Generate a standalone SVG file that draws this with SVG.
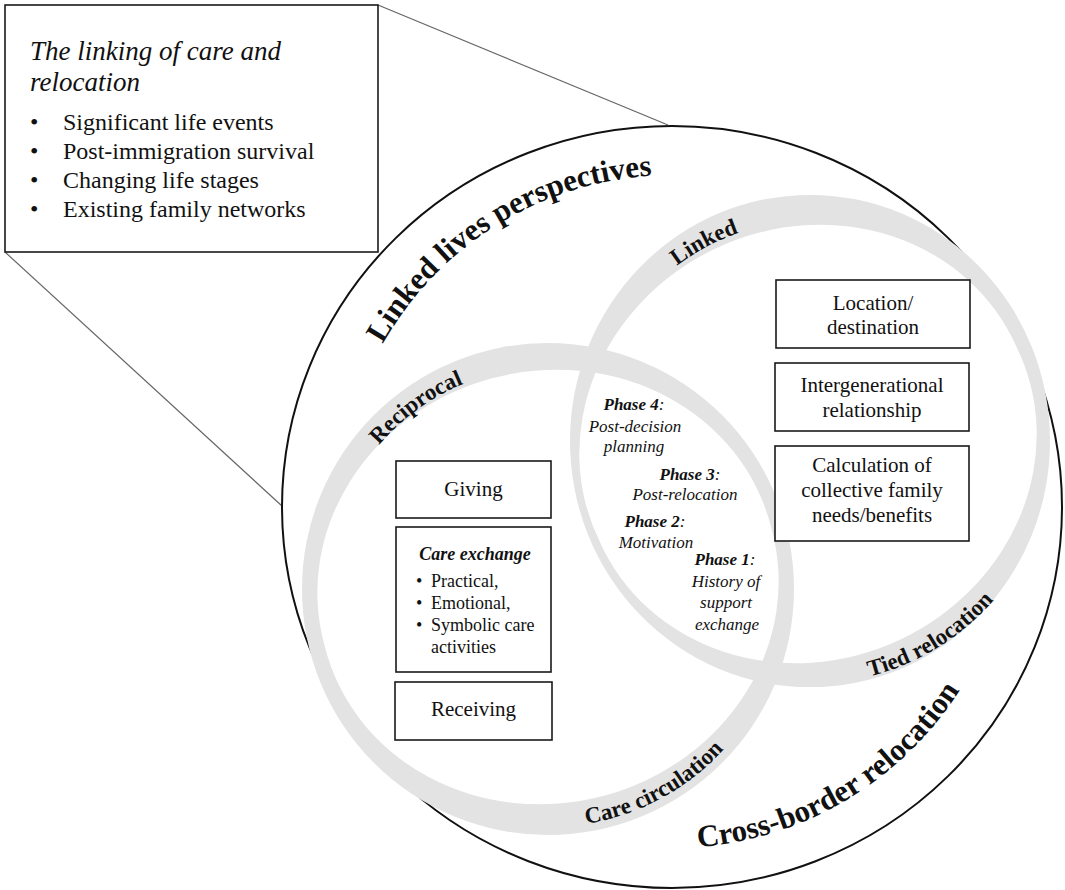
<svg xmlns="http://www.w3.org/2000/svg" width="1065" height="890" viewBox="0 0 1065 890">
<style>
.t{font-family:'Liberation Serif','Times New Roman',serif;fill:#111}
.box{fill:#fff;stroke:#1a1a1a;stroke-width:1.6}
.band{fill:#e3e3e3;fill-rule:evenodd}
.lead{stroke:#666;stroke-width:1.2;fill:none}
.ring{font-family:'Liberation Serif','Times New Roman',serif;font-weight:bold;font-size:23px;fill:#111}
.big{font-family:'Liberation Serif','Times New Roman',serif;font-weight:bold;font-size:31px;fill:#111}
.ph{font-family:'Liberation Serif','Times New Roman',serif;font-style:italic;font-size:17px;fill:#111}
.bx{font-family:'Liberation Serif','Times New Roman',serif;font-size:21px;fill:#111}
</style>
<defs>
<path id="pBigTop" d="M 340 507 A 332 332 0 0 1 1004 507"/>
<path id="pBigBot" d="M 331 507 A 341 341 0 0 0 1013 507"/>
<path id="pLTop" d="M 326 589 A 222 222 0 0 1 770 589"/>
<path id="pLBot" d="M 310 589 A 238 238 0 0 0 786 589"/>
<path id="pRTop" d="M 590 441 A 220 220 0 0 1 1030 441"/>
<path id="pRBot" d="M 567 441 A 243 243 0 0 0 1053 441"/>
</defs>

<g id="leaders">
<path class="lead" d="M 378 5 L 668 125"/>
<path class="lead" d="M 5 252 L 282 506"/>
</g>

<g id="outer-circle">
<ellipse cx="672" cy="507" rx="390" ry="381" fill="none" stroke="#111" stroke-width="2"/>
<text class="big"><textPath href="#pBigTop" startOffset="32.2%" text-anchor="middle">Linked lives perspectives</textPath></text>
<text class="big"><textPath href="#pBigBot" startOffset="67.2%" text-anchor="middle">Cross-border relocation</textPath></text>
</g>

<g id="right-ring">
<path class="band" d="M 570 441 A 240 246 0 1 0 1050 441 A 240 246 0 1 0 570 441 Z M 1016.4 346.8 A 230 212 -25 1 0 599.6 541.2 A 230 212 -25 1 0 1016.4 346.8 Z"/>
<text class="ring"><textPath href="#pRTop" startOffset="34.4%" text-anchor="middle">Linked</textPath></text>
<text class="ring"><textPath href="#pRBot" startOffset="67.6%" text-anchor="middle">Tied relocation</textPath></text>
</g>

<g id="left-ring">
<path class="band" d="M 302 589 A 246 246 0 1 0 794 589 A 246 246 0 1 0 302 589 Z M 771.1 527.2 A 231 213 -15 1 0 324.9 646.8 A 231 213 -15 1 0 771.1 527.2 Z"/>
<text class="ring"><textPath href="#pLTop" startOffset="30%" text-anchor="middle">Reciprocal</textPath></text>
<text class="ring"><textPath href="#pLBot" startOffset="65.8%" text-anchor="middle">Care circulation</textPath></text>
</g>

<g id="summary-box">
<rect class="box" x="5" y="5" width="373" height="247" stroke-width="2"/>
<text class="t" font-style="italic" font-size="27" x="30" y="60">The linking of care and</text>
<text class="t" font-style="italic" font-size="27" x="30" y="91">relocation</text>
<g class="t" font-size="24">
<text x="30" y="130">•</text><text x="63" y="130">Significant life events</text>
<text x="30" y="159">•</text><text x="63" y="159">Post-immigration survival</text>
<text x="30" y="188">•</text><text x="63" y="188">Changing life stages</text>
<text x="30" y="217">•</text><text x="63" y="217">Existing family networks</text>
</g>
</g>

<g id="phases" text-anchor="middle">
<text class="ph" x="634" y="410"><tspan font-weight="bold">Phase 4</tspan>:</text>
<text class="ph" x="635" y="432">Post-decision</text>
<text class="ph" x="634" y="452">planning</text>
<text class="ph" x="690" y="480"><tspan font-weight="bold">Phase 3</tspan>:</text>
<text class="ph" x="685" y="500">Post-relocation</text>
<text class="ph" x="655" y="527"><tspan font-weight="bold">Phase 2</tspan>:</text>
<text class="ph" x="656" y="548">Motivation</text>
<text class="ph" x="725" y="565"><tspan font-weight="bold">Phase 1</tspan>:</text>
<text class="ph" x="726" y="587">History of</text>
<text class="ph" x="726" y="608">support</text>
<text class="ph" x="727" y="630">exchange</text>
</g>

<g id="giving">
<rect class="box" x="396" y="461" width="155" height="57"/>
<text class="bx" x="473.5" y="496" text-anchor="middle">Giving</text>
</g>
<g id="care-exchange">
<rect class="box" x="396" y="527" width="155" height="145"/>
<text class="t" font-size="18" font-weight="bold" font-style="italic" x="475" y="560" text-anchor="middle">Care exchange</text>
<g class="t" font-size="18">
<text x="416" y="587">•</text><text x="431" y="587">Practical,</text>
<text x="416" y="609">•</text><text x="431" y="609">Emotional,</text>
<text x="416" y="631">•</text><text x="431" y="631">Symbolic care</text>
<text x="431" y="653">activities</text>
</g>
</g>
<g id="receiving">
<rect class="box" x="395" y="682" width="157" height="58"/>
<text class="bx" x="473.5" y="716" text-anchor="middle">Receiving</text>
</g>

<g id="location">
<rect class="box" x="776" y="280" width="194" height="68"/>
<text class="bx" x="873" y="310" text-anchor="middle">Location/</text>
<text class="bx" x="873" y="334" text-anchor="middle">destination</text>
</g>
<g id="intergenerational">
<rect class="box" x="775" y="363" width="194" height="68"/>
<text class="bx" x="872" y="392" text-anchor="middle">Intergenerational</text>
<text class="bx" x="872" y="417" text-anchor="middle">relationship</text>
</g>
<g id="calculation">
<rect class="box" x="775" y="446" width="194" height="95"/>
<text class="bx" x="872" y="472" text-anchor="middle">Calculation of</text>
<text class="bx" x="872" y="497" text-anchor="middle">collective family</text>
<text class="bx" x="872" y="522" text-anchor="middle">needs/benefits</text>
</g>
</svg>
